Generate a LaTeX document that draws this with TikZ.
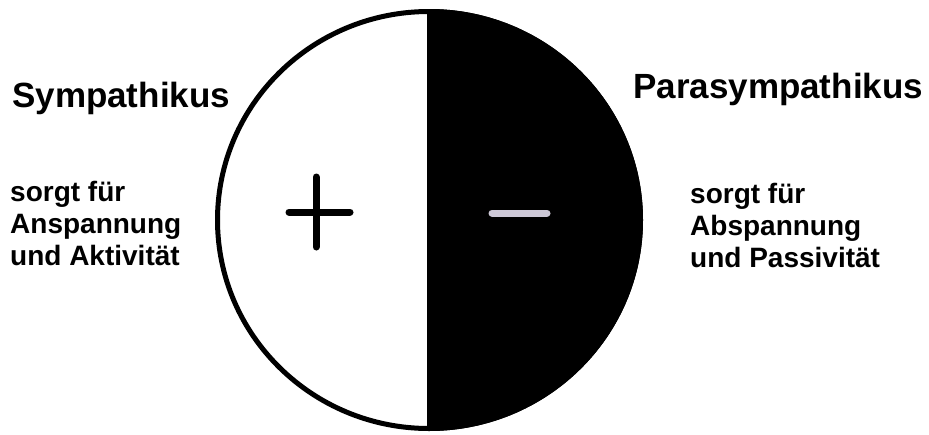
\documentclass[tikz,border=0pt]{standalone}
\usepackage{fontspec}
\setmainfont{Liberation Sans}
\usepackage{tikz}
\usetikzlibrary{positioning}
\definecolor{cMinus}{RGB}{205,200,215}
\tikzset{
  titletext/.style={inner sep=0,anchor=base west,font=\bfseries\fontsize{35}{40}\selectfont},
  notetext/.style={inner sep=0,anchor=base west,align=left,
                   font=\bfseries\fontsize{28}{32}\selectfont},
  signline/.style={line width=7pt,line cap=round}
}
\begin{document}
\begin{tikzpicture}[x=1pt,y=-1pt]
  \useasboundingbox[fill=white] (0,0) rectangle (929,434);
  % circle: white left half, black right half
  \begin{scope}
    \clip (427,0) rectangle (700,434);
    \fill[black] (429,220) ellipse [x radius=214, y radius=211];
  \end{scope}
  \draw[line width=5pt] (429,220) ellipse [x radius=211.5, y radius=208.5];
  % signs
  \draw[signline] (289,212) -- (350,212);
  \draw[signline] (316,177) -- (316,247);
  \draw[signline,color=cMinus] (492,213) -- (547,213);
  % labels (base = last line)
  \node[titletext] (sym) at (12,107) {Sympathikus};
  \node[titletext] (para) at (633,98) {Parasympathikus};
  \node[notetext] (symnote) at (10,265)
      {sorgt für\\Anspannung\\und Aktivität};
  \node[notetext] (paranote) at (690,267)
      {sorgt für\\Abspannung\\und Passivität};
\end{tikzpicture}
\end{document}
